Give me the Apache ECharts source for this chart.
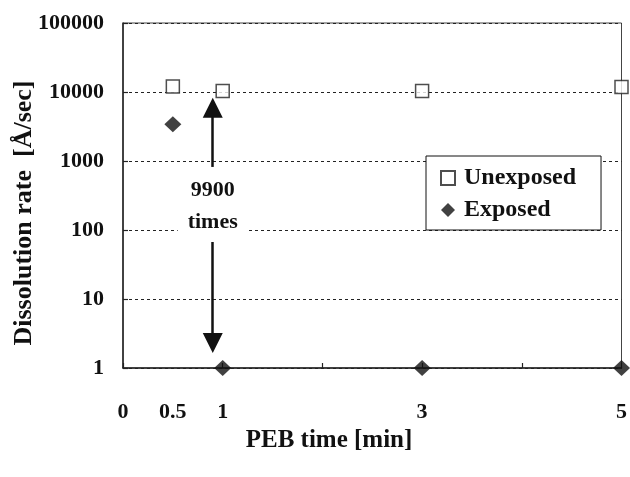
<!DOCTYPE html>
<html>
<head>
<meta charset="utf-8">
<script src="https://cdn.jsdelivr.net/npm/echarts@6/dist/echarts.min.js"></script>
<style>html,body{margin:0;padding:0;background:#fff;}#c{width:630px;height:477px;}</style>
</head>
<body>
<div id="c"></div>
<script>
// ---- data ----
const pebTimes = [0.5, 1, 3, 5];
const unexposed = [12000, 10300, 10300, 11800];
const exposed = [3400, 1, 1, 1];
const xTickLabels = [0, 0.5, 1, 3, 5];
const seriesNames = ['Unexposed', 'Exposed'];
const annotationText = '9900\ntimes';
const xTitle = 'PEB time [min]';
const yTitle = 'Dissolution rate  [Å/sec]';
const arrowX = 0.9;
const arrowTopEnd = 5900;
const arrowTopBreak = 820;
const arrowBottomBreak = 67;
const arrowBottomEnd = 2.3;
const annotationY = 220;

const FONT = 'Liberation Serif';
const chart = echarts.init(document.getElementById('c'), null, {renderer: 'canvas'});

const option = {
  backgroundColor: '#fff',
  animation: false,
  grid: {left: 123, right: 5, top: 23, bottom: 109, show: true, borderColor: '#444', borderWidth: 1, backgroundColor: 'transparent'},
  xAxis: {
    type: 'value', min: 0, max: 5, interval: 1,
    axisLine: {show: true, lineStyle: {color: '#222', width: 1.5}},
    axisTick: {show: true, inside: true, length: 5, lineStyle: {color: '#222', width: 1.2}},
    axisLabel: {customValues: xTickLabels, margin: 33, fontFamily: FONT, fontWeight: 'bold', fontSize: 22, color: '#111',
      formatter: v => String(v)},
    splitLine: {show: false}
  },
  yAxis: {
    type: 'log', logBase: 10, min: 1, max: 100000,
    axisLine: {show: true, lineStyle: {color: '#222', width: 1.5}},
    axisTick: {show: true, inside: true, length: 5, lineStyle: {color: '#222', width: 1.2}},
    axisLabel: {margin: 19, fontFamily: FONT, fontWeight: 'bold', fontSize: 22, color: '#111', formatter: v => String(Math.round(v))},
    splitLine: {show: true, lineStyle: {color: '#222', type: [3, 3], width: 1}},
    minorTick: {show: false}
  },
  legend: {
    orient: 'vertical', left: 426, top: 156,
    backgroundColor: '#fff', borderColor: '#111', borderWidth: 1,
    padding: [10, 25, 8, 14], itemGap: 8, itemWidth: 14, itemHeight: 14,
    textStyle: {fontFamily: FONT, fontWeight: 'bold', fontSize: 24, color: '#111', padding: [0, 0, 0, 4]},
    data: seriesNames
  },
  series: [
    {
      name: seriesNames[0], type: 'scatter', symbol: 'rect', symbolSize: 13, clip: false, z: 3,
      itemStyle: {color: '#fff', borderColor: '#222', borderWidth: 1.5},
      data: pebTimes.map((x, i) => [x, unexposed[i]])
    },
    {
      name: seriesNames[1], type: 'scatter', symbol: 'diamond', symbolSize: [17, 16], clip: false, z: 4,
      itemStyle: {color: '#111'},
      data: pebTimes.map((x, i) => [x, exposed[i]]),
      markLine: {
        silent: true, animation: false,
        lineStyle: {color: '#111', width: 2.5, type: 'solid'},
        label: {show: false},
        symbolSize: [20, 20],
        data: [
          [{coord: [arrowX, arrowTopEnd], symbol: 'triangle'}, {coord: [arrowX, arrowTopBreak], symbol: 'none'}],
          [{coord: [arrowX, arrowBottomBreak], symbol: 'none'}, {coord: [arrowX, arrowBottomEnd], symbol: 'triangle'}]
        ]
      },
      markPoint: {
        silent: true, animation: false,
        data: [{
          coord: [arrowX, annotationY], symbol: 'rect', symbolSize: 1, itemStyle: {color: 'transparent'},
          label: {show: true, position: 'inside', formatter: annotationText, fontFamily: FONT, fontWeight: 'bold',
            fontSize: 22, lineHeight: 32, color: '#111', backgroundColor: '#fff', padding: [0, 10], align: 'center', verticalAlign: 'middle'}
        }]
      }
    }
  ],
  graphic: [
    {type: 'text', x: 329, y: 441, style: {text: xTitle, font: 'bold 25px "Liberation Serif"', fill: '#111', align: 'center', verticalAlign: 'middle'}},
    {type: 'text', x: 24, y: 213, rotation: Math.PI / 2, style: {text: yTitle, font: 'bold 26px "Liberation Serif"', fill: '#111', align: 'center', verticalAlign: 'middle'}}
  ]
};
chart.setOption(option);
</script>
</body>
</html>
